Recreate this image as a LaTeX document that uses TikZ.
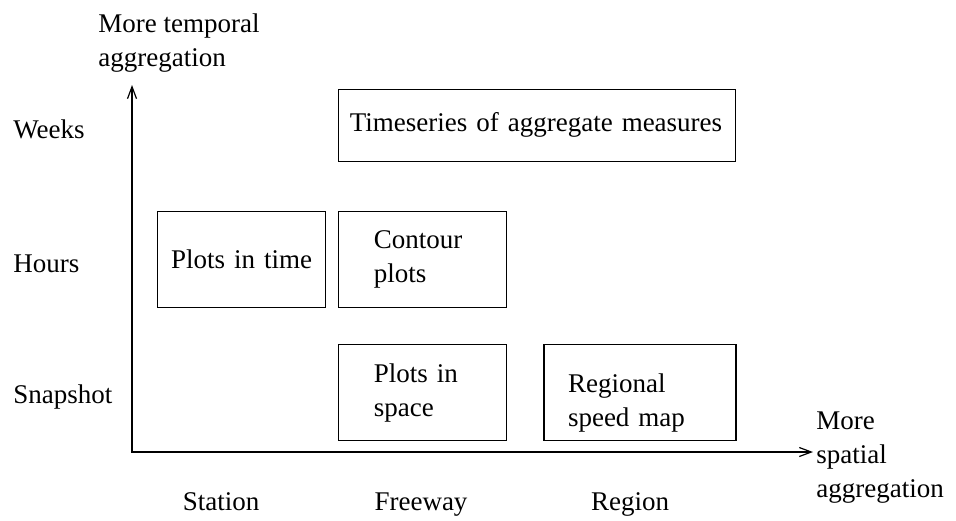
\documentclass[tikz,border=0pt]{standalone}
\usepackage{fontspec}
\setmainfont{Liberation Serif}
\usepackage{tikz}
\usetikzlibrary{
arrows.meta,
positioning
}
\definecolor{AggInk}{HTML}{000000}
\newcommand{\aggfont}{\fontsize{13.5}{17}\selectfont}
\tikzset{
aggbox/.style={draw=AggInk, line width=0.6pt, inner ysep=0pt, align=left,
  minimum height=48pt, font=\aggfont},
agglabel/.style={inner sep=0pt, text=AggInk, font=\aggfont},
aggaxis/.style={{Straight Barb[length=6pt,width=4.5pt]}-{Straight Barb[length=6pt,width=4.5pt]}, line width=0.6pt, draw=AggInk}
}
\begin{document}
\begin{tikzpicture}[x=0.5pt, y=-0.5pt]
\useasboundingbox (0,0) rectangle (956,520);

\node[aggbox, anchor=north west, text width=74pt, inner xsep=5pt, align=center] (time) at (157,211) {Plots in time};
\node[aggbox, right=6pt of time, text width=49pt, inner xsep=17.5pt] (contour) {Contour\\plots};
\node[aggbox, below=18pt of contour, text width=49pt, inner xsep=17.5pt] (space) {Plots in\\space};
\node[aggbox, right=18pt of space, text width=72pt, inner xsep=12pt, text height=19.5pt] (regional) {Regional\\speed map};
\node[aggbox, above=24.5pt of contour.north west, anchor=south west, minimum height=36pt,
  text width=187.5pt, inner xsep=5.5pt] (series) {Timeseries of aggregate measures};

% axes
\coordinate (origin) at (132,452);
\coordinate (ytop) at (132,85);
\coordinate (xend) at (813,452);
\draw[aggaxis] (ytop) -- (origin) -- (xend);

% multi-line labels sit on their last line
\node[agglabel, anchor=base west, align=left] (tempaxis) at (98,66) {More temporal\\aggregation};
\node[agglabel, anchor=base west, align=left] (spataxis) at (816,497) {More\\spatial\\aggregation};

\node[agglabel, anchor=base west] (weeks) at (13,138) {Weeks};
\node[agglabel, anchor=base west] (hours) at (13,272) {Hours};
\node[agglabel, anchor=base west] (snap) at (13,403) {Snapshot};

\node[agglabel, anchor=base] (station) at (221,510) {Station};
\node[agglabel, anchor=base] (freeway) at (421,510) {Freeway};
\node[agglabel, anchor=base] (region) at (630,510) {Region};
\end{tikzpicture}
\end{document}
